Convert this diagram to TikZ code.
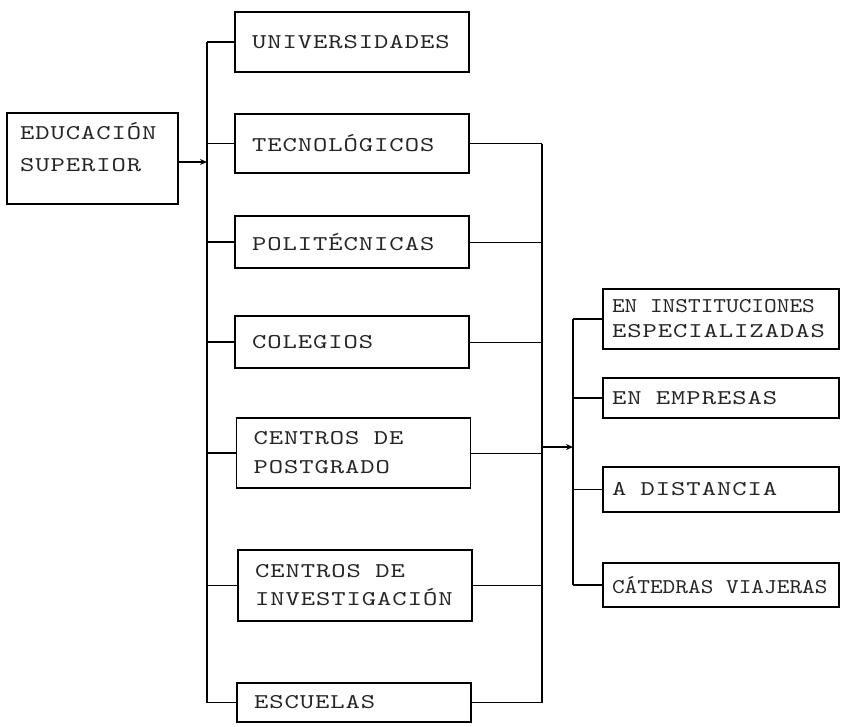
\documentclass[tikz,border=0pt]{standalone}
\usepackage{fontspec}
\usepackage{graphicx}
\usetikzlibrary{arrows.meta}
\newfontfamily\tw{lmmono10-regular}[Extension=.otf, FakeStretch=1.3, LetterSpace=4.5]
\newfontfamily\twn{lmmono10-regular}[Extension=.otf, FakeStretch=1.15]
\newcommand\wsp{\hphantom{X}}
\begin{document}
\begin{tikzpicture}[x=1pt,y=-1pt,
  box/.style={draw, line width=1.3pt, inner ysep=0pt, align=left, text=black!85},
  mid/.style={box, minimum width=234pt, inner xsep=17pt, text width=200pt},
  rgt/.style={box, minimum width=236pt, inner xsep=9pt, text width=218pt},
  f/.style={font=\tw\fontsize{21}{#1}\selectfont},
  conn/.style={line width=1.6pt},
  thin/.style={line width=1pt},
  arr/.style={line width=1.5pt, -{Stealth[length=7pt,width=6pt]}}
]
\useasboundingbox (0,0) rectangle (843,726);
% left box
\node[box, f=32, minimum width=171pt, minimum height=91pt, inner xsep=13pt, text width=145pt] (edu) at (92.5,158.5) {EDUCACIÓN\\SUPERIOR\rule[-22pt]{0pt}{22pt}};
% middle column
\node[mid, f=29, minimum height=60pt] (univ)   at (352,42)    {UNIVERSIDADES};
\node[mid, f=29, minimum height=59pt] (tecn)   at (352,143.5) {TECNOLÓGICOS};
\node[mid, f=29, minimum height=52pt] (polit)  at (352,242)   {POLITÉCNICAS};
\node[mid, f=29, minimum height=52pt] (coleg)  at (352,342)   {COLEGIOS};
\node[mid, f=29, minimum height=70pt] (post)   at (353.5,453) {CENTROS\wsp DE\\POSTGRADO};
\node[mid, f=28, minimum height=71pt] (invest) at (355,585.5) {CENTROS\wsp DE\\INVESTIGACIÓN};
\node[mid, f=29, minimum height=39pt] (esc)    at (354,702.5) {ESCUELAS};
% right column
\node[rgt, f=25, minimum height=60pt] (instit) at (721,319)   {{\twn EN\wsp INSTITUCIONES}\\ESPECIALIZADAS};
\node[rgt, f=29, minimum height=40pt] (empr)   at (721,398)   {EN\wsp EMPRESAS};
\node[rgt, f=29, minimum height=45pt] (dist)   at (721,489.5) {A\wsp DISTANCIA};
\node[rgt, f=29, minimum height=44pt] (cated)  at (721,585)   {{\twn CÁTEDRAS\wsp VIAJERAS}};
% bus coordinates
\coordinate (L) at (207,0);
\coordinate (M) at (542,0);
\coordinate (R) at (573,0);
\coordinate (j1) at (207,162);
\coordinate (j2) at (542,447);
% left bus
\draw[arr] (edu.east |- j1) -- (j1);
\draw[conn] (univ.west -| L) -- (esc.west -| L);
\foreach \n in {univ,tecn,polit,coleg,post,invest,esc}
  \draw[conn] (\n.west -| L) -- (\n.west);
% middle bus
\draw[conn] (tecn.east -| M) -- (esc.east -| M);
\foreach \n in {tecn,polit,coleg,post,invest,esc}
  \draw[thin] (\n.east) -- (\n.east -| M);
% right bus
\draw[arr] (j2) -- (j2 -| R);
\draw[conn] (instit.west -| R) -- (cated.west -| R);
\foreach \n in {instit,empr,dist,cated}
  \draw[conn] (\n.west -| R) -- (\n.west);
\end{tikzpicture}
\end{document}
